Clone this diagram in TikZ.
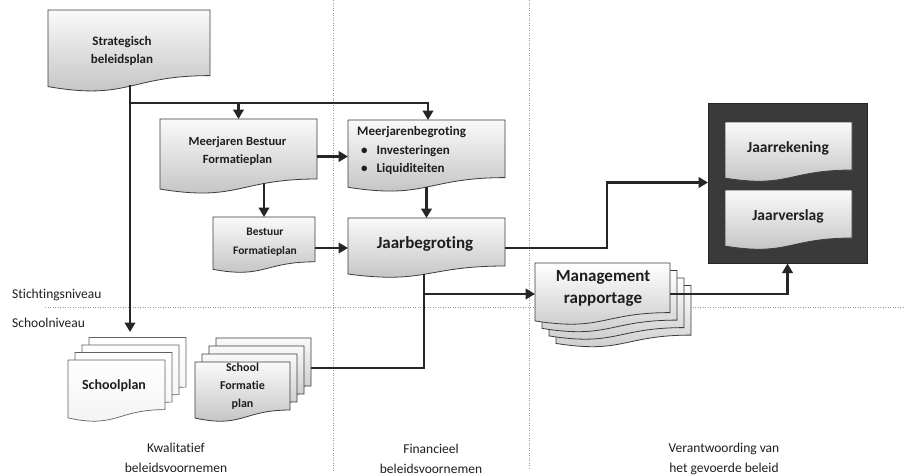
\documentclass[tikz,border=0pt]{standalone}
\usepackage{fontspec}
\setmainfont{Carlito}[Ligatures=NoCommon]
\usetikzlibrary{arrows.meta,calc}
\pgfdeclarelayer{back}
\pgfdeclarelayer{shapes}
\pgfsetlayers{back,shapes,main}
\definecolor{txtc}{HTML}{1E1E1E}
\definecolor{bordc}{HTML}{3C3C3C}
\definecolor{linec}{HTML}{262626}
\definecolor{darkc}{HTML}{3A3A3A}
\definecolor{dotc}{HTML}{9A9A9A}
\newcommand\myfs[2]{\fontsize{#1}{#2}\selectfont\bfseries}
\newcommand\myrs[2]{\fontsize{#1}{#2}\selectfont}
% #1 style, #2 node, #3 dx, #4 dy (downwards, px)
\newcommand\docshape[4]{%
 \begin{pgfonlayer}{shapes}
 \path[#1] let \p1=(#2.north west), \p2=(#2.south east) in
   ({\x1+#3},{\y1-#4}) -- ({\x2+#3},{\y1-#4}) -- ({\x2+#3},{\y1-#4-0.8*(\y1-\y2)})
   .. controls ({0.5*(\x1+\x2)+#3},{\y1-#4-0.8*(\y1-\y2)}) and ({0.5*(\x1+\x2)+#3},{\y1-#4-1.107*(\y1-\y2)}) ..
   ({\x1+#3},{\y1-#4-0.934*(\y1-\y2)}) -- cycle;
 \end{pgfonlayer}}
\tikzset{
  box/.style={rectangle, draw=none, inner sep=0pt, outer sep=0pt},
  btxt/.style={align=center, text=txtc, inner sep=0pt},
  docfill/.style={draw=bordc, line width=0.8pt, top color=gray!4, bottom color=gray!50},
  mgfill/.style={draw=bordc, line width=0.8pt, top color=white, bottom color=gray!42},
  spfill/.style={draw=gray!75!black, line width=0.7pt, top color=white, bottom color=gray!10},
  dotline/.style={draw=dotc, line width=1pt, dash pattern=on 1.1pt off 1.4pt},
  conn/.style={draw=linec, line width=2.5pt},
  arr/.style={conn, -{Triangle[length=9.5pt,width=10.5pt]}},
  lbl/.style={text=txtc, inner sep=0pt, font=\myrs{13.5}{19.5}},
}
\begin{document}
\begin{tikzpicture}[x=1pt,y=-1pt]
\useasboundingbox (0,0) rectangle (904,475);

\begin{pgfonlayer}{back}
\fill[white] (0,0) rectangle (904,475);
\draw[dotline] (333,0) -- (333,472);
\draw[dotline] (529,0) -- (529,468);
\draw[dotline] (45,307) -- (904,307);
\end{pgfonlayer}

% Strategisch beleidsplan
\node[box, minimum width=162pt, minimum height=82pt] (strat) at (129,51) {};
\docshape{docfill}{strat}{0}{0}
\node[btxt, font=\myfs{13}{18.5}] (strat-t) at (122,51) {Strategisch\\beleidsplan};

% Meerjaren Bestuur Formatieplan
\node[box, minimum width=157pt, minimum height=75pt] (mbf) at (238.5,156.5) {};
\docshape{docfill}{mbf}{0}{0}
\node[btxt, font=\myfs{12.5}{18}] (mbf-t) at (237.5,151) {Meerjaren Bestuur\\Formatieplan};

% Bestuur Formatieplan
\node[box, minimum width=102pt, minimum height=56pt] (bfp) at (264,245) {};
\docshape{docfill}{bfp}{0}{0}
\node[btxt, font=\myfs{11.5}{19.5}] (bfp-t) at (265,242) {Bestuur\\Formatieplan};

% Meerjarenbegroting
\node[box, minimum width=157pt, minimum height=72pt] (mjb) at (426.5,156) {};
\docshape{docfill}{mjb}{0}{0}
\node[btxt, align=left, anchor=west, font=\myfs{13}{18.5}] (mjb-t) at (357,150.5)
  {Meerjarenbegroting\\\hspace*{4pt}\textbullet\hspace{9pt}Investeringen\\\hspace*{4pt}\textbullet\hspace{9pt}Liquiditeiten};

% Jaarbegroting
\node[box, minimum width=157pt, minimum height=60pt] (jbg) at (426.5,248) {};
\docshape{docfill}{jbg}{0}{0}
\node[btxt, font=\myfs{17}{22}] (jbg-t) at (425,244) {Jaarbegroting};

% Dark box with Jaarrekening / Jaarverslag
\node[box, minimum width=159pt, minimum height=160pt] (dark) at (787.5,183.5) {};
\begin{pgfonlayer}{shapes}
\fill[darkc, draw=black!85, line width=0.8pt] (dark.north west) rectangle (dark.south east);
\end{pgfonlayer}
\node[box, minimum width=127pt, minimum height=60pt] (jrk) at (788.5,152) {};
\docshape{docfill}{jrk}{0}{0}
\node[btxt, font=\myfs{15.5}{20}] (jrk-t) at (788,148) {Jaarrekening};
\node[box, minimum width=127pt, minimum height=60pt] (jvs) at (788.5,220) {};
\docshape{docfill}{jvs}{0}{0}
\node[btxt, font=\myfs{15.5}{20}] (jvs-t) at (788,216) {Jaarverslag};

% Management rapportage (stack)
\node[box, minimum width=135pt, minimum height=62pt] (mgmt) at (602.5,294) {};
\docshape{mgfill}{mgmt}{21}{22.5}
\docshape{mgfill}{mgmt}{14}{15}
\docshape{mgfill}{mgmt}{7}{7.5}
\docshape{mgfill}{mgmt}{0}{0}
\node[btxt, font=\myfs{17}{22}] (mgmt-t) at (603,288) {Management\\rapportage};

% Schoolplan (stack)
\node[box, minimum width=97pt, minimum height=62pt] (sp) at (116.5,391) {};
\docshape{spfill}{sp}{21}{-22.5}
\docshape{spfill}{sp}{14}{-15}
\docshape{spfill}{sp}{7}{-7.5}
\docshape{spfill}{sp}{0}{0}
\node[btxt, font=\myfs{14}{19}] (sp-t) at (114,386) {Schoolplan};

% School Formatie plan (stack)
\node[box, minimum width=95pt, minimum height=60pt] (sfp) at (242.5,392) {};
\docshape{docfill}{sfp}{21}{-24}
\docshape{docfill}{sfp}{14}{-16}
\docshape{docfill}{sfp}{7}{-8}
\docshape{docfill}{sfp}{0}{0}
\node[btxt, font=\myfs{12}{18}] (sfp-t) at (242.5,386) {School\\Formatie\\plan};

% Labels
\node[lbl, anchor=west] (stn) at (12,295) {Stichtingsniveau};
\node[lbl, anchor=west] (scn) at (12,323) {Schoolniveau};
\node[lbl, align=center] (col1) at (176,458) {Kwalitatief\\beleidsvoornemen};
\node[lbl, align=center] (col2) at (431,459) {Financieel\\beleidsvoornemen};
\node[lbl, align=center] (col3) at (724,459) {Verantwoording van\\het gevoerde beleid};

% Connectors
\coordinate (j1) at (130,103);
\coordinate (sptop) at (130,332);
\draw[arr] ($(strat.south -| j1)+(0,-7)$) -- (sptop);
\draw[arr] (j1) -| ([xshift=1.5pt]mjb.north);
\draw[arr] (j1 -| mbf.north) -- (mbf.north);
\draw[arr] ($(mbf.south -| bfp.north)+(0,-11)$) -- (bfp.north);
\draw[arr] (mbf.east) -- (mbf.east -| mjb.west);
\draw[arr] ($(mjb.south)+(0,-5)$) -- (jbg.north);
\draw[arr] (bfp.east |- jbg.west) -- (jbg.west);
\coordinate (c1) at (607,248);
\draw[arr] (jbg.east) -- (c1) |- ([yshift=1pt]dark.west);
\coordinate (j2) at (424,294);
\draw[arr] ($(jbg.south)+(-2.5,-4)$) -- (j2) -- (mgmt.west);
\draw[conn] ($(sfp.east)+(21,-24)$) -| (j2);
\draw[arr] (mgmt.east) -| (dark.south);
\end{tikzpicture}
\end{document}
